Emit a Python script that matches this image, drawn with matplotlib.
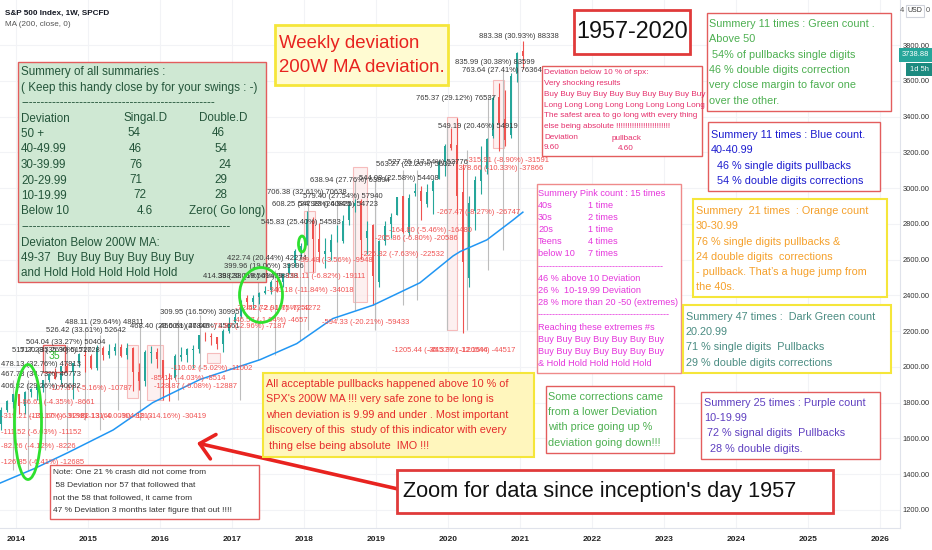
import numpy as np
import pandas as pd
import matplotlib
matplotlib.use("Agg")
import matplotlib.pyplot as plt
from matplotlib import font_manager
from matplotlib.patches import Rectangle, Ellipse

# monthly S&P 500 candles, Oct 2013 .. Jan 2021
months = pd.period_range("2013-10", "2021-01", freq="M")
opens = [1682, 1758, 1806,
         1845, 1782, 1857, 1873, 1884, 1924, 1962, 1929, 2004, 1971, 2019, 2066,
         2059, 1996, 2105, 2068, 2086, 2109, 2067, 2104, 1970, 1919, 2080, 2082,
         2039, 1937, 1938, 2057, 2067, 2094, 2099, 2173, 2171, 2164, 2129, 2201,
         2251, 2285, 2381, 2362, 2389, 2415, 2431, 2477, 2475, 2521, 2583, 2645,
         2683, 2816, 2715, 2633, 2643, 2718, 2704, 2821, 2897, 2926, 2718, 2790,
         2476, 2703, 2798, 2848, 2953, 2751, 2971, 2981, 2910, 2983, 3050, 3144,
         3244, 3236, 2974, 2499, 2870, 3038, 3105, 3289, 3508, 3386, 3296, 3645,
         3764]
highs = [1775, 1813, 1849,
         1850, 1867, 1884, 1897, 1924, 1968, 1991, 2006, 2019, 2018, 2075, 2093,
         2072, 2120, 2117, 2126, 2135, 2129, 2133, 2113, 2021, 2094, 2117, 2104,
         2039, 1963, 2073, 2112, 2104, 2121, 2178, 2194, 2188, 2169, 2214, 2278,
         2301, 2372, 2401, 2399, 2418, 2454, 2484, 2491, 2520, 2582, 2658, 2695,
         2873, 2836, 2802, 2718, 2743, 2791, 2848, 2917, 2941, 2940, 2816, 2800,
         2708, 2813, 2860, 2950, 2955, 2964, 3028, 3014, 3022, 3050, 3155, 3248,
         3338, 3394, 3136, 2955, 3068, 3233, 3280, 3515, 3588, 3550, 3646, 3760,
         3824]
lows = [1646, 1746, 1767,
        1738, 1737, 1834, 1815, 1862, 1915, 1930, 1905, 1964, 1821, 2001, 1973,
        1988, 1981, 2039, 2048, 2068, 2057, 2044, 1867, 1872, 1893, 2019, 1994,
        1812, 1810, 1932, 2034, 2026, 1992, 2075, 2147, 2120, 2097, 2084, 2188,
        2245, 2271, 2322, 2329, 2353, 2405, 2407, 2418, 2447, 2520, 2558, 2605,
        2683, 2533, 2585, 2554, 2595, 2699, 2691, 2796, 2864, 2603, 2631, 2347,
        2444, 2681, 2723, 2848, 2751, 2729, 2953, 2822, 2892, 2856, 3050, 3070,
        3214, 2855, 2192, 2447, 2767, 2966, 3077, 3280, 3209, 3233, 3279, 3595,
        3663]
closes = [1757, 1806, 1848,
          1783, 1859, 1872, 1884, 1924, 1960, 1931, 2003, 1972, 2018, 2068, 2059,
          1995, 2105, 2068, 2086, 2107, 2063, 2104, 1972, 1920, 2079, 2080, 2044,
          1940, 1932, 2060, 2065, 2097, 2099, 2174, 2171, 2168, 2126, 2199, 2239,
          2279, 2364, 2363, 2384, 2412, 2423, 2470, 2472, 2519, 2575, 2648, 2674,
          2824, 2714, 2641, 2648, 2705, 2718, 2816, 2902, 2914, 2712, 2760, 2507,
          2704, 2784, 2834, 2946, 2752, 2942, 2980, 2926, 2977, 3038, 3141, 3231,
          3226, 2954, 2585, 2912, 3044, 3100, 3271, 3500, 3363, 3270, 3622, 3756,
          3739]

# 200 week moving average
ma_years = [2013.78, 2014.25, 2014.71, 2015.35, 2015.90, 2016.56, 2017.39, 2017.90,
            2018.40, 2018.96, 2019.61, 2020.07, 2020.17, 2020.54, 2020.90, 2021.04]
ma_values = [1350, 1430, 1518, 1647, 1800, 1930, 2040, 2130,
             2270, 2345, 2470, 2620, 2645, 2710, 2820, 2865]

# measurement tool verticals: year, top price, bottom price
range_years = [2013.96, 2014.17, 2014.40, 2014.71, 2014.96, 2015.17, 2015.42, 2015.72,
               2016.00, 2016.25, 2016.56, 2017.11, 2017.36, 2017.60, 2017.94, 2018.06,
               2018.46, 2018.71, 2018.99, 2019.38, 2019.57, 2019.99, 2020.26, 2020.56,
               2020.76, 2020.97]
range_top = [1926, 1926, 2094, 2122, 2206, 2178, 2206, 2234, 2234, 2262, 2290, 2430, 2542,
             2542, 2653, 2933, 2933, 3045, 3045, 3101, 3101, 3353, 3213, 3520, 3660, 3716]
range_bottom = [1423, 1423, 1535, 1535, 1703, 1647, 1759, 1703, 1815, 1815, 1982, 1815, 2038,
                2066, 2150, 2206, 2262, 2318, 2206, 2346, 2374, 2206, 2206, 2542, 2653, 2849]

# pullback boxes: start year, end year, high, low
drop_start = [2015.54, 2015.82, 2016.65, 2018.00, 2018.68, 2019.99, 2020.63]
drop_end = [2015.70, 2016.04, 2016.83, 2018.15, 2018.88, 2020.13, 2020.78]
drop_high = [2122, 2122, 2077, 2870, 3118, 3397, 3604]
drop_low = [1826, 1815, 2022, 2530, 2363, 2206, 3224]

year_ticks = list(range(2014, 2027))
price_ticks = list(range(1200, 3801, 200))

available = {f.name for f in font_manager.fontManager.ttflist}
if "Liberation Sans Narrow" in available:
    FONT, FS = "Liberation Sans Narrow", 1.0
else:
    FONT, FS = "Liberation Sans", 0.84
plt.rcParams["font.family"] = [FONT, "DejaVu Sans"]

fig = plt.figure(figsize=(9.32, 5.5), dpi=100)
ax = fig.add_axes([0, 22 / 550, 900 / 932, 528 / 550])
ax.set_zorder(0)

x = np.array([p.year + (p.month - 0.5) / 12 for p in months])
o = np.array(opens)
c = np.array(closes)
up = c >= o
colors = np.where(up, "#26a69a", "#ef5350")
ax.vlines(x, lows, highs, colors=colors, lw=0.8, zorder=3)
ax.bar(x, np.abs(c - o) + 2, bottom=np.minimum(o, c), width=0.03,
       color=colors, zorder=3)
ax.plot(ma_years, ma_values, color="#2196f3", lw=1.1, zorder=4)

ax.vlines(range_years, range_bottom, range_top, colors="#bdbdbd", lw=0.8, zorder=2)
for s, e, h, l in zip(drop_start, drop_end, drop_high, drop_low):
    ax.add_patch(Rectangle((s, l), e - s, h - l, facecolor="#fdeaea",
                           edgecolor="#f4a3a3", lw=0.8, alpha=0.7, zorder=1))

ax.set_xlim(2013.778, 2026.278)
ax.set_ylim(1098.6, 4051.7)
ax.yaxis.tick_right()
ax.set_yticks(price_ticks)
ax.set_yticklabels([f"{v:.2f}" for v in price_ticks])
ax.set_xticks(year_ticks)
ax.set_xticklabels([str(v) for v in year_ticks])
ax.tick_params(axis="y", length=0, pad=2, labelsize=5.4, labelcolor="#333333")
ax.tick_params(axis="x", length=0, pad=6, labelsize=6, labelcolor="#222222")
for lab in ax.get_xticklabels():
    lab.set_fontweight("bold")
ax.grid(True, color="#f2f3f6", lw=0.8)
ax.set_axisbelow(True)
for side in ("top", "left"):
    ax.spines[side].set_visible(False)
for side in ("right", "bottom"):
    ax.spines[side].set_color("#e0e3eb")

# overlay in screen pixels for the drawings
ov = fig.add_axes([0, 0, 1, 1], facecolor="none")
ov.set_zorder(1)
ov.set_xlim(0, 932)
ov.set_ylim(550, 0)
ov.axis("off")


def box(x0, y0, x1, y1, fc="white", ec="#e35d5d", lw=1.0):
    ov.add_patch(Rectangle((x0, y0), x1 - x0, y1 - y0, facecolor=fc,
                           edgecolor=ec, lw=lw, zorder=2))


def write(xs, y0, dy, rows, color, size, **kw):
    for i, r in enumerate(rows):
        ov.text(xs, y0 + i * dy, r, color=color, fontsize=size * FS,
                ha="left", va="center", zorder=3, **kw)


# header
ov.text(5, 13, "S&P 500 Index, 1W, SPCFD", fontsize=7 * FS, fontweight="bold",
        color="#131722", va="center")
ov.text(5, 25, "MA (200, close, 0)", fontsize=7 * FS, color="#555555", va="center")

# measurement labels
gray_labels = [
    (519, 36, "883.38 (30.93%) 88338"), (495, 63, "835.99 (30.38%) 83599"),
    (502, 71, "763.64 (27.41%) 76364"), (456, 99, "765.37 (29.12%) 76537"),
    (478, 127, "549.19 (20.46%) 54919"), (416, 164, "563.27 (22.26%) 56327"),
    (428, 163, "527.76 (17.54%) 52776"), (350, 180, "638.94 (27.76%) 63894"),
    (399, 178, "544.08 (22.58%) 54408"), (307, 192, "706.38 (32.61%) 70638"),
    (343, 196, "579.40 (27.54%) 57940"), (312, 204, "608.25 (24.98%) 60825"),
    (338, 205, "547.23 (24.94%) 54723"), (301, 223, "545.83 (25.40%) 54583"),
    (267, 259, "422.74 (20.44%) 42274"), (264, 267, "399.96 (19.06%) 39996"),
    (243, 276, "414.39 (20.06%) 41439"), (258, 276, "388.38 (18.56%) 38838"),
    (200, 313, "309.95 (16.50%) 30995"), (104, 322, "488.11 (29.64%) 48811"),
    (170, 326, "468.40 (29.00%) 46840"), (200, 327, "456.61 (27.00%) 45661"),
    (86, 330, "526.42 (33.61%) 52642"), (66, 342, "504.04 (33.27%) 50404"),
    (52, 350, "517.20 (35.26%) 51720"), (60, 351, "517.28 (35.30%) 51728"),
]
red_labels = [
    (90, 388, "-107.87 (-5.16%) -10787"), (57, 403, "-86.61 (-4.35%) -8661"),
    (212, 369, "-110.02 (-5.02%) -11002"), (188, 379, "-85.14 (-4.03%) -8514"),
    (195, 386, "-128.87 (-6.08%) -12887"),
    (70, 417, "-131.60 (-6.92%) -13160"), (115, 417, "-82.13 (-4.00%) -8213"),
    (163, 417, "-304.19 (-14.16%) -30419"),
    (310, 290, "-340.18 (-11.84%) -34018"), (325, 276, "-191.11 (-6.82%) -19111"),
    (335, 260, "-99.48 (-3.56%) -9948"), (403, 255, "-225.32 (-7.63%) -22532"),
    (416, 238, "-205.86 (-6.80%) -20586"), (430, 231, "-164.80 (-5.46%) -16480"),
    (479, 212, "-267.47 (-8.27%) -26747"), (507, 160, "-315.91 (-8.90%) -31591"),
    (500, 168, "-378.66 (-10.33%) -37866"), (366, 322, "-594.33 (-20.21%) -59433"),
    (440, 350, "-1205.44 (-35.37%) -120544"), (472, 350, "-445.37 (-12.16%) -44517"),
    (272, 309, "-72.52 (-2.91%) -7252"), (283, 309, "-42.72 (-1.75%) -4272"),
    (270, 320, "-46.57 (-1.94%) -4657"), (248, 326, "-71.87 (-2.96%) -7187"),
]
# labels that sit against the left edge of the chart
edge_gray = [(365, "478.13 (32.76%) 47813"), (375, "467.73 (34.73%) 46773"),
             (387, "406.82 (29.26%) 40682")]
edge_red = [(417, "-319.21 (-15.17%) -31921"), (432, "-111.52 (-6.03%) -11152"),
            (447, "-82.26 (-4.12%) -8226"), (463, "-126.85 (-6.41%) -12685")]
for lx, ly, t in gray_labels:
    ov.text(lx, ly, t, fontsize=6.6 * FS, color="#3a3a3a", ha="center", va="center", zorder=4)
for lx, ly, t in red_labels:
    ov.text(lx, ly, t, fontsize=6.6 * FS, color="#f05252", ha="center", va="center", zorder=4)
for ly, t in edge_gray:
    ov.text(1, ly, t, fontsize=6.6 * FS, color="#3a3a3a", ha="left", va="center", zorder=4)
for ly, t in edge_red:
    ov.text(1, ly, t, fontsize=6.6 * FS, color="#f05252", ha="left", va="center", zorder=4)

# arrow and circles
ov.annotate("", xy=(197, 443), xytext=(398, 489),
            arrowprops=dict(arrowstyle="->,head_length=1.0,head_width=0.9",
                            color="#e8231f", lw=2.6, shrinkA=0, shrinkB=0), zorder=1.5)
for cx, cy, w, h in [(28, 422, 27, 115), (261, 295, 43, 55), (302, 244, 7, 16)]:
    ov.add_patch(Ellipse((cx, cy), w, h, fill=False, ec="#2ee02e", lw=2, zorder=5))
box(43, 345, 65, 372, fc="none")
ov.text(54, 356, "35", color="#2eb82e", fontsize=9 * FS, ha="center", va="center", zorder=4)

# summary of summaries
box(18, 62, 266, 282, fc="#cfe8d3")
dg = "#24553a"
write(21, 72, 15.5, ["Summery of all summaries :",
                     "( Keep this handy close by for your swings : -)",
                     "-" * 50, "Deviation", "50 +", "40-49.99", "30-39.99",
                     "20-29.99", "10-19.99", "Below 10", "-" * 54,
                     "Deviaton Below 200W MA:",
                     "49-37  Buy Buy Buy Buy Buy Buy",
                     "and Hold Hold Hold Hold Hold"], dg, 10)
ov.text(123, 118, "Singal.D", color=dg, fontsize=10 * FS, va="center", zorder=3)
ov.text(199, 118, "Double.D", color=dg, fontsize=10 * FS, va="center", zorder=3)
singles = [("54", 127), ("46", 129), ("76", 129), ("71", 129), ("72", 133), ("4.6", 137)]
doubles = [("46", 212), ("54", 214), ("24", 218), ("29", 214), ("28", 214), ("Zero( Go long)", 189)]
for i, ((s, sx), (d, dx)) in enumerate(zip(singles, doubles)):
    ov.text(sx, 133.5 + i * 15.5, s, color=dg, fontsize=10 * FS, va="center", zorder=3)
    ov.text(dx, 133.5 + i * 15.5, d, color=dg, fontsize=10 * FS, va="center", zorder=3)

# title boxes
box(275, 25, 448, 85, fc="#fffbd2", ec="#f5e63a", lw=2)
write(279, 43, 24, ["Weekly deviation", "200W MA deviation."], "#e8231f", 16)
box(574, 10, 690, 54, ec="#e03a3a", lw=2)
ov.text(632, 32, "1957-2020", fontsize=20 * FS, color="#111111", ha="center",
        va="center", zorder=3)
box(397, 470, 833, 513, ec="#e03a3a", lw=2)
ov.text(403, 492, "Zoom for data since inception's day 1957", fontsize=18.5 * FS,
        color="#111111", va="center", zorder=3)

# right side notes
box(542, 66, 702, 156)
pk = "#e5306c"
write(544, 73, 10.7, ["Deviation below 10 % of spx:", "Very shocking results",
                      "Buy Buy Buy Buy Buy Buy Buy Buy Buy Buy",
                      "Long Long Long Long Long Long Long Long",
                      "The safest area to go long with every thing",
                      "else being absolute " + "!" * 24,
                      "Deviation", "9.60"], pk, 7)
ov.text(612, 138, "pullback", color=pk, fontsize=7 * FS, va="center", zorder=3)
ov.text(618, 149, "4.60", color=pk, fontsize=7 * FS, va="center", zorder=3)

box(707, 13, 891, 111)
write(709, 24, 15.3, ["Summery 11 times : Green count .", "Above 50",
                      " 54% of pullbacks single digits",
                      "46 % double digits correction",
                      "very close margin to favor one", "over the other."],
      "#4caf50", 9.3)
box(708, 122, 880, 191)
write(711, 135, 15.3, ["Summery 11 times : Blue count.", "40-40.99",
                       "  46 % single digits pullbacks",
                       "  54 % double digits corrections"], "#1c1ccf", 9.3)

box(537, 184, 681, 373, ec="#ef8a8a")
mg = "#e535dc"
write(538, 193, 12.2, ["Summery Pink count : 15 times", "40s", "30s", "20s", "Teens",
                       "below 10", "-" * 42, "46 % above 10 Deviation",
                       "26 %  10-19.99 Deviation", "28 % more than 20 -50 (extremes)",
                       "-" * 44, "Reaching these extremes #s",
                       "Buy Buy Buy Buy Buy Buy Buy", "Buy Buy Buy Buy Buy Buy Buy",
                       "& Hold Hold Hold Hold Hold"], mg, 7.8)
write(588, 205.2, 12.2, ["1 time", "2 times", "1 time", "4 times", "7 times"], mg, 7.8)

box(693, 199, 887, 297, ec="#f5e63a", lw=1.5)
write(696, 211, 15.3, ["Summery  21 times  : Orange count", "30-30.99",
                       "76 % single digits pullbacks &",
                       "24 double digits  corrections",
                       "- pullback. That\u2019s a huge jump from", "the 40s."],
      "#f5a02a", 9.3)
box(683, 305, 891, 373, ec="#f5e63a", lw=1.5)
write(686, 317, 15.2, ["Summery 47 times :  Dark Green count", "20.20.99",
                       "71 % single digits  Pullbacks",
                       "29 % double digits corrections"], "#4a8c82", 9.3)
box(701, 392, 880, 459)
write(704, 403, 15.2, ["Summery 25 times : Purple count", "10-19.99",
                       " 72 % signal digits  Pullbacks",
                       "  28 % double digits."], "#5e3fc0", 9.3)
box(546, 386, 674, 453)
write(548, 397, 15.2, ["Some corrections came", "from a lower Deviation",
                       "with price going up %", "deviation going down!!!"],
      "#4caf50", 9.3)
box(263, 373, 534, 457, fc="#fff6bd", ec="#f5e63a", lw=1.5)
write(266, 384, 15.4, ["All acceptable pullbacks happened above 10 % of",
                       "SPX's 200W MA !!! very safe zone to be long is",
                       "when deviation is 9.99 and under . Most important",
                       "discovery of this  study of this indicator with every",
                       " thing else being absolute  IMO !!!"], "#e52b2b", 9.3)
box(50, 465, 259, 519)
write(53, 473, 12.5, ["Note: One 21 % crash did not come from",
                      " 58 Deviation nor 57 that followed that",
                      "not the 58 that followed, it came from",
                      "47 % Deviation 3 months later figure that out !!!!"],
      "#333333", 7.2)

# price scale extras
ov.add_patch(Rectangle((899, 48), 33, 14, facecolor="#26a69a", edgecolor="none", zorder=3))
ov.text(915.5, 55, "3738.88", color="white", fontsize=5.4, ha="center", va="center", zorder=4)
ov.add_patch(Rectangle((906, 63), 26, 13, facecolor="#1c8a7f", edgecolor="none", zorder=3))
ov.text(919, 69.5, "1d 5h", color="white", fontsize=5.4, ha="center", va="center", zorder=4)
ov.add_patch(Rectangle((906, 5), 18, 12, facecolor="white", edgecolor="#d0d3db", lw=0.8, zorder=3))
ov.text(915, 11, "USD", color="#333333", fontsize=5, ha="center", va="center", zorder=4)
ov.text(900, 10, "4", color="#555555", fontsize=5.4, va="center", zorder=4)
ov.text(926, 10, "0", color="#555555", fontsize=5.4, va="center", zorder=4)

fig.savefig("out.png", dpi=100)
